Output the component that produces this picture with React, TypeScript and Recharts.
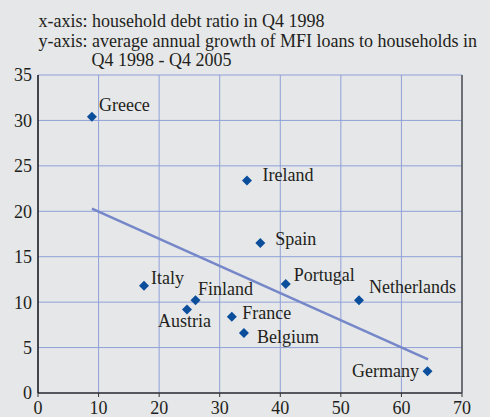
import React from 'react';
import { ScatterChart, Scatter, XAxis, YAxis, CartesianGrid, ReferenceLine } from 'recharts';

const countries = ['Greece', 'Ireland', 'Spain', 'Italy', 'Finland', 'Austria', 'France', 'Belgium', 'Portugal', 'Netherlands', 'Germany'];
const debtRatio = [8.9, 34.5, 36.7, 17.5, 26.0, 24.6, 32.0, 34.0, 40.9, 53.0, 64.3];
const loanGrowth = [30.4, 23.4, 16.5, 11.8, 10.2, 9.2, 8.4, 6.6, 12.0, 10.2, 2.4];
const xTicks = [0, 10, 20, 30, 40, 50, 60, 70];
const yTicks = [0, 5, 10, 15, 20, 25, 30, 35];
const trendX = [8.9, 64.4];
const trendY = [20.3, 3.7];
const titleLine1 = 'x-axis: household debt ratio in Q4 1998';
const titleLine2 = 'y-axis: average annual growth of MFI loans to households in';
const titleLine3 = 'Q4 1998 - Q4 2005';

const data = countries.map((name, i) => ({ name, x: debtRatio[i], y: loanGrowth[i] }));

const FONT = 'Liberation Serif, Times New Roman, serif';
const TEXT = '#231f20';
const MARK = '#0b4f9c';

const placement: Record<string, { dx: number; dy: number; anchor: 'start' | 'middle' | 'end' }> = {
  Greece: { dx: 7, dy: -6, anchor: 'start' },
  Ireland: { dx: 15.5, dy: 1, anchor: 'start' },
  Spain: { dx: 15, dy: 1.5, anchor: 'start' },
  Italy: { dx: 7, dy: -2, anchor: 'start' },
  Finland: { dx: 2.5, dy: -5, anchor: 'start' },
  Austria: { dx: -2.5, dy: 18, anchor: 'middle' },
  France: { dx: 10.5, dy: 2, anchor: 'start' },
  Belgium: { dx: 13, dy: 10, anchor: 'start' },
  Portugal: { dx: 8, dy: -3, anchor: 'start' },
  Netherlands: { dx: 10, dy: -7, anchor: 'start' },
  Germany: { dx: -8.5, dy: 6, anchor: 'end' },
};

const DiamondShape = (props: any) => {
  const { cx, cy, payload } = props;
  if (cx == null || cy == null) return null;
  const r = 5;
  const p = placement[payload.name] || { dx: 8, dy: 0, anchor: 'start' };
  return (
    <g>
      <polygon
        points={`${cx},${cy - r} ${cx + r},${cy} ${cx},${cy + r} ${cx - r},${cy}`}
        fill={MARK}
      />
      <text
        x={cx + p.dx}
        y={cy + p.dy}
        textAnchor={p.anchor}
        fontFamily={FONT}
        fontSize={18}
        fill={TEXT}
      >
        {payload.name}
      </text>
    </g>
  );
};

export default function App() {
  const tickStyle = { fontFamily: FONT, fontSize: 18, fill: TEXT };
  return (
    <div style={{ position: 'absolute', left: 0, top: 0, width: 490, height: 417, background: '#e6e7e8' }}>
      <ScatterChart
        width={490}
        height={417}
        margin={{ top: 75, right: 0, bottom: 4, left: 8 }}
      >
        <CartesianGrid stroke="#8fa0d8" strokeWidth={1} />
        <XAxis
          type="number"
          dataKey="x"
          domain={[0, 70]}
          ticks={xTicks}
          interval={0}
          height={20}
          axisLine={{ stroke: '#333', strokeWidth: 1.5 }}
          tickLine={{ stroke: '#333' }}
          tickSize={4}
          tickMargin={4}
          tick={tickStyle}
        />
        <YAxis
          type="number"
          dataKey="y"
          domain={[0, 35]}
          ticks={yTicks}
          interval={0}
          width={30}
          axisLine={{ stroke: '#1a1a1a', strokeWidth: 1.5 }}
          tickLine={false}
          tickSize={0}
          tickMargin={6}
          tick={tickStyle}
        />
        <YAxis
          yAxisId="right"
          orientation="right"
          type="number"
          domain={[0, 35]}
          ticks={yTicks}
          interval={0}
          width={28}
          axisLine={{ stroke: '#555', strokeWidth: 1.5 }}
          tickLine={false}
          tickSize={0}
          tickMargin={9}
          tick={{ ...tickStyle, textAnchor: 'start' }}
        />
        <ReferenceLine
          segment={[{ x: trendX[0], y: trendY[0] }, { x: trendX[1], y: trendY[1] }]}
          stroke="#7587c8"
          strokeWidth={2.5}
          ifOverflow="visible"
        />
        <Scatter data={data} shape={DiamondShape} isAnimationActive={false} />
      </ScatterChart>
      <svg width={490} height={75} style={{ position: 'absolute', left: 0, top: 0, pointerEvents: 'none' }}>
        <text x={38.5} y={27} fontFamily={FONT} fontSize={18} fill={TEXT}>{titleLine1}</text>
        <text x={38.5} y={46.5} fontFamily={FONT} fontSize={18} fill={TEXT}>{titleLine2}</text>
        <text x={91.5} y={66} fontFamily={FONT} fontSize={18} fill={TEXT}>{titleLine3}</text>
      </svg>
    </div>
  );
}
